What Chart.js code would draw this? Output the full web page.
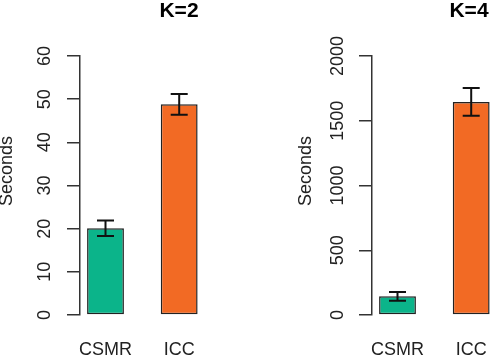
<!DOCTYPE html>
<html>
<head>
<meta charset="utf-8">
<script src="https://cdn.jsdelivr.net/npm/chart.js@4.4.1/dist/chart.umd.min.js"></script>
<style>
  html, body { margin: 0; padding: 0; background: #fff; overflow: hidden; }
  body { width: 492px; height: 358px; position: relative; }
  .panel { position: absolute; top: 0; height: 358px; }
</style>
</head>
<body>
<div class="panel" style="left:0"><canvas id="chartK2" width="358" height="358"></canvas></div>
<div class="panel" style="left:246px"><canvas id="chartK4" width="446" height="358"></canvas></div>
<script>
// data
const categories = ["CSMR", "ICC"];
const barColors = ["#0bb48a", "#f26a24"];

const k2Means = [20.1, 48.8];
const k2Errors = [1.8, 2.4];

const k4Means = [144, 1645];
const k4Errors = [34, 107];

const FONT = "'Liberation Sans', Arial, Helvetica, sans-serif";
const TEXT = "#222";
const AXIS = "#333";
const BAR_SPACING = 73.7; // px between bar centres

/* ===============================
   ERROR BARS
================================ */
const errorBars = {
  id: "errorBars",
  afterDatasetsDraw(chart, args, opts) {
    const { ctx } = chart;
    const yScale = chart.scales.y;
    const ds = chart.data.datasets[0];
    const half = opts.capWidth / 2;

    ctx.save();
    ctx.strokeStyle = opts.color;
    ctx.lineWidth = opts.lineWidth;
    chart.getDatasetMeta(0).data.forEach((bar, i) => {
      const v = ds.data[i].y;
      const e = opts.errors[i];
      const top = yScale.getPixelForValue(v + e);
      const bottom = yScale.getPixelForValue(v - e);
      ctx.beginPath();
      ctx.moveTo(bar.x, top);
      ctx.lineTo(bar.x, bottom);
      ctx.moveTo(bar.x - half, top);
      ctx.lineTo(bar.x + half, top);
      ctx.moveTo(bar.x - half, bottom);
      ctx.lineTo(bar.x + half, bottom);
      ctx.stroke();
    });
    ctx.restore();
  }
};

/* ===============================
   Y AXIS LABEL (R puts it a bit above the middle)
================================ */
const sideLabel = {
  id: "sideLabel",
  afterDraw(chart, args, opts) {
    const { ctx, chartArea } = chart;
    ctx.save();
    ctx.font = "18px " + FONT;
    ctx.fillStyle = TEXT;
    ctx.textAlign = "center";
    ctx.textBaseline = "middle";
    ctx.translate(chartArea.left - opts.offset, (chartArea.top + chartArea.bottom) / 2 + opts.shift);
    ctx.rotate(-Math.PI / 2);
    ctx.fillText(opts.text, 0, 0);
    ctx.restore();
  }
};

function renderPanel(canvasId, title, means, errors, yMax, yStep, layout) {
  const canvas = document.getElementById(canvasId);
  const xMin = -25.5 / BAR_SPACING;
  const xMax = xMin + (canvas.width - layout.axisWidth) / BAR_SPACING;

  return new Chart(canvas, {
    type: "bar",
    data: {
      datasets: [{
        data: means.map((v, i) => ({ x: i, y: v })),
        backgroundColor: barColors,
        borderColor: "#222",
        borderWidth: 1.5,
        borderSkipped: false,
        barPercentage: 1,
        categoryPercentage: 0.5
      }]
    },
    options: {
      responsive: false,
      animation: false,
      layout: { padding: 0 },
      plugins: {
        legend: { display: false },
        tooltip: { enabled: false },
        title: {
          display: true,
          text: title,
          color: "#000",
          font: { family: FONT, size: 21, weight: "bold", lineHeight: 1 },
          padding: { top: 1, bottom: 34 }
        },
        errorBars: { errors, capWidth: 17, lineWidth: 2, color: "#111" },
        sideLabel: { text: "Seconds", offset: layout.labelOffset, shift: -14.5 }
      },
      scales: {
        x: {
          type: "linear",
          offset: false,
          min: xMin,
          max: xMax,
          afterBuildTicks(scale) {
            scale.ticks = categories.map((c, i) => ({ value: i }));
          },
          afterFit(scale) { scale.height = 43; },
          grid: { display: false, drawTicks: false, offset: false },
          border: { display: false },
          ticks: {
            callback: v => categories[v],
            padding: 24,
            maxRotation: 0,
            autoSkip: false,
            color: TEXT,
            font: { family: FONT, size: 18 }
          }
        },
        y: {
          min: 0,
          max: yMax,
          afterFit(scale) { scale.width = layout.axisWidth; },
          border: { display: true, color: AXIS, width: 1.5 },
          grid: {
            drawOnChartArea: false,
            drawTicks: true,
            tickLength: 13,
            color: AXIS,
            lineWidth: 1.5
          },
          ticks: {
            stepSize: yStep,
            minRotation: 90,
            maxRotation: 90,
            crossAlign: "center",
            padding: layout.tickPad,
            color: TEXT,
            font: { family: FONT, size: 18 },
            callback: v => String(v)
          }
        }
      }
    },
    plugins: [errorBars, sideLabel]
  });
}

renderPanel("chartK2", "K=2", k2Means, k2Errors, 60, 10,
  { axisWidth: 80, tickPad: 11.5, labelOffset: 72.5 });
renderPanel("chartK4", "K=4", k4Means, k4Errors, 2000, 500,
  { axisWidth: 126, tickPad: 1, labelOffset: 65.5 });
</script>
</body>
</html>
